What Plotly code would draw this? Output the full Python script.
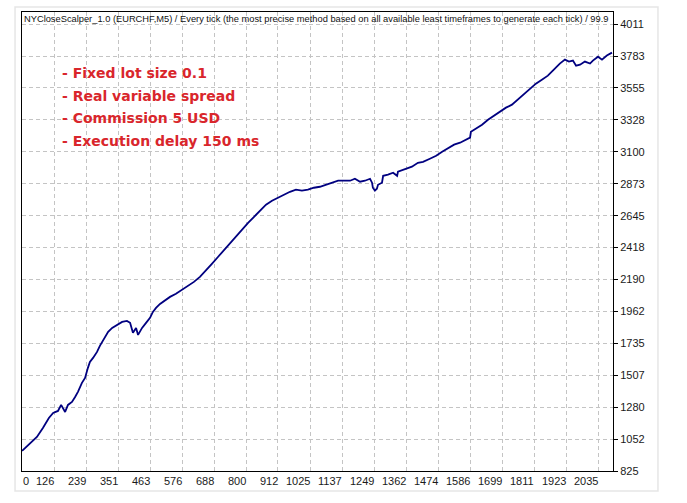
import plotly.graph_objects as go

# Equity curve (trade number, balance)
trades = [14, 42, 66, 87, 108, 123, 140, 151, 158, 165, 175, 189, 200, 210, 224, 235, 245, 252, 263, 277,
          287, 302, 316, 330, 347, 365, 382, 393, 403, 414, 421, 435, 449, 463, 473, 484, 498, 516, 533, 554,
          575, 596, 617, 638, 659, 680, 702, 723, 744, 765, 786, 807, 828, 849, 870, 891, 912, 933, 954, 975,
          996, 1017, 1038, 1059, 1080, 1102, 1123, 1144, 1165, 1182, 1200, 1217, 1235, 1242, 1245, 1252, 1259,
          1263, 1277, 1281, 1298, 1316, 1330, 1333, 1351, 1368, 1382, 1403, 1421, 1445, 1467, 1488, 1509, 1530,
          1551, 1572, 1586, 1589, 1607, 1628, 1649, 1670, 1691, 1712, 1733, 1754, 1775, 1796, 1817, 1838, 1859,
          1880, 1901, 1919, 1933, 1947, 1958, 1972, 1989, 2007, 2017, 2035, 2049, 2066, 2084]
balance = [968, 1025, 1068, 1132, 1203, 1239, 1253, 1296, 1274, 1246, 1296, 1317, 1353, 1389, 1453, 1488, 1560, 1603, 1631, 1674,
           1717, 1774, 1817, 1845, 1867, 1888, 1895, 1881, 1810, 1845, 1795, 1845, 1881, 1917, 1959, 1988, 2016, 2045, 2066, 2088,
           2116, 2145, 2173, 2209, 2252, 2302, 2352, 2402, 2452, 2502, 2551, 2594, 2637, 2680, 2723, 2751, 2773, 2794, 2815, 2830,
           2823, 2830, 2844, 2851, 2865, 2880, 2894, 2894, 2894, 2908, 2887, 2894, 2908, 2880, 2844, 2823, 2837,
           2865, 2880, 2929, 2937, 2951, 2929, 2958, 2972, 2987, 2994, 3022, 3029, 3051, 3072, 3101, 3129, 3151,
           3165, 3186, 3201, 3243, 3265, 3293, 3329, 3358, 3386, 3415, 3436, 3472, 3507, 3543, 3586, 3614, 3643,
           3686, 3729, 3757, 3743, 3750, 3714, 3721, 3743, 3729, 3750, 3778, 3757, 3786, 3807]

x_ticks = [126, 239, 351, 463, 576, 688, 800, 912, 1025, 1137, 1249, 1362, 1474, 1586, 1699, 1811, 1923, 2035]
y_ticks = [825, 1052, 1280, 1507, 1735, 1962, 2190, 2418, 2645, 2873, 3100, 3328, 3555, 3783, 4011]

title_text = ("NYCloseScalper_1.0 (EURCHF,M5) / Every tick (the most precise method based on all "
              "available least timeframes to generate each tick) / 99.9")
notes = ["- Fixed lot size 0.1", "- Real variable spread", "- Commission 5 USD", "- Execution delay 150 ms"]

X_RANGE = [13.7, 2087.6]
Y_RANGE = [825, 4096.6]

small_font = dict(family="Liberation Sans", size=11, color="#1a1a1a")

fig = go.Figure()
fig.add_trace(go.Scatter(x=trades, y=balance, mode="lines",
                         line=dict(color="#000080", width=1.8), hoverinfo="skip"))

annotations = []
for v in x_ticks:
    annotations.append(dict(x=v, y=0, xref="x", yref="paper", text=str(v), showarrow=False,
                            xanchor="right", yanchor="top", yshift=-3, xshift=1, borderpad=0,
                            font=small_font))
annotations.append(dict(x=X_RANGE[0], y=0, xref="x", yref="paper", text="0", showarrow=False,
                        xanchor="left", yanchor="top", yshift=-3, borderpad=0, font=small_font))
annotations.append(dict(x=0, y=1, xref="paper", yref="paper", text=title_text, showarrow=False,
                        xanchor="left", yanchor="top", xshift=1, yshift=-1, borderpad=0,
                        font=dict(family="Liberation Sans", size=9.3, color="#111111")))
for i, line in enumerate(notes):
    annotations.append(dict(x=0, y=1, xref="paper", yref="paper", text="<b>" + line + "</b>",
                            showarrow=False, xanchor="left", yanchor="middle", borderpad=0,
                            xshift=38.5, yshift=-(61 + 22.7 * i),
                            font=dict(family="DejaVu Sans", size=14, color="#d9262c")))

fig.update_layout(
    width=687, height=503,
    margin=dict(l=22, r=74, t=12, b=32),
    paper_bgcolor="white", plot_bgcolor="white",
    showlegend=False,
    annotations=annotations,
    shapes=[dict(type="rect", xref="paper", yref="paper", x0=-0.0118, x1=1.0761, y0=-0.0436, y1=1.0109,
                 line=dict(color="#e6e6e6", width=1.5), layer="below")],
    xaxis=dict(range=X_RANGE, tickvals=x_ticks, showticklabels=False, ticks="",
               showgrid=True, gridcolor="#c4c4c4", griddash="4px,3px", gridwidth=1,
               showline=True, mirror=True, linecolor="black", linewidth=1, zeroline=False),
    yaxis=dict(range=Y_RANGE, side="right", tickvals=y_ticks, ticktext=[str(v) for v in y_ticks],
               ticks="outside", ticklen=4, tickcolor="black", tickfont=small_font,
               showgrid=True, gridcolor="#c4c4c4", griddash="4px,3px", gridwidth=1,
               showline=True, mirror=True, linecolor="black", linewidth=1, zeroline=False),
)

fig.write_html("out.html")
